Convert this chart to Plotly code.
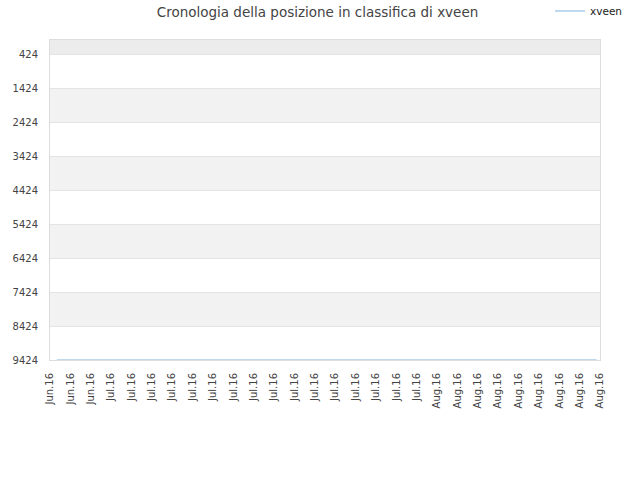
import plotly.graph_objects as go

# data
dates = ["2016-06-25 16:00", "2016-07-10 00:00", "2016-07-25 00:00", "2016-08-17 16:00"]
ranks = [9424, 9424, 9424, 9424]
tick_dates = ["2016-06-25", "2016-06-27", "2016-06-29",
              "2016-07-01", "2016-07-03", "2016-07-05", "2016-07-07", "2016-07-09",
              "2016-07-11", "2016-07-13", "2016-07-15", "2016-07-17", "2016-07-19",
              "2016-07-21", "2016-07-23", "2016-07-25", "2016-07-27", "2016-07-29",
              "2016-07-31",
              "2016-08-02", "2016-08-04", "2016-08-06", "2016-08-08", "2016-08-10",
              "2016-08-12", "2016-08-14", "2016-08-16", "2016-08-18"]
tick_labels = ["Jun.16"] * 3 + ["Jul.16"] * 16 + ["Aug.16"] * 9
y_ticks = [424, 1424, 2424, 3424, 4424, 5424, 6424, 7424, 8424, 9424]
y_top = 12

W, H = 640, 480

fig = go.Figure()
fig.add_trace(go.Scatter(x=dates, y=ranks, mode="lines", name="xveen",
                         line=dict(color="#a8cbea", width=1.5)))

shapes = []
shapes.append(dict(type="rect", xref="paper", yref="y", x0=0, x1=1, y0=y_top, y1=y_ticks[0],
                   fillcolor="#ececec", line=dict(width=0), layer="below"))
for i in range(len(y_ticks) - 1):
    if i % 2 == 1:
        shapes.append(dict(type="rect", xref="paper", yref="y", x0=0, x1=1,
                           y0=y_ticks[i], y1=y_ticks[i + 1],
                           fillcolor="#f2f2f2", line=dict(width=0), layer="below"))

fig.update_layout(
    width=W, height=H,
    margin=dict(l=50, r=40, t=40, b=120, autoexpand=False),
    paper_bgcolor="white", plot_bgcolor="white",
    title=dict(text="Cronologia della posizione in classifica di xveen",
               x=317.5 / W, xanchor="center", y=1 - 12.5 / H, yanchor="middle",
               font=dict(family="DejaVu Sans", size=13.5, color="#444")),
    font=dict(family="DejaVu Sans", size=10, color="#444"),
    showlegend=True,
    legend=dict(x=550 / W, xanchor="left", y=1 - 11 / H, yanchor="middle",
                xref="container", yref="container",
                font=dict(size=10.5, color="#222"), bgcolor="rgba(0,0,0,0)",
                itemwidth=30, borderwidth=0),
    shapes=shapes,
    xaxis=dict(type="date", range=["2016-06-25", "2016-08-18"],
               tickmode="array", tickvals=tick_dates, ticktext=tick_labels,
               tickangle=-90, showgrid=False, showline=True, linecolor="#dddddd",
               mirror=True, ticks="outside", ticklen=8, tickcolor="rgba(0,0,0,0)",
               tickfont=dict(size=10, color="#444"), zeroline=False, automargin=False),
    yaxis=dict(range=[9424, y_top], tickmode="array", tickvals=y_ticks,
               showgrid=True, gridcolor="#e4e4e4", showline=True, linecolor="#dddddd",
               mirror=True, ticks="outside", ticklen=9, tickcolor="rgba(0,0,0,0)",
               tickfont=dict(size=10, color="#444"), zeroline=False, automargin=False),
)
fig.write_html("out.html", config={"displayModeBar": False, "staticPlot": True},
               post_script="document.body.style.margin='0';document.body.style.overflow='hidden';")
